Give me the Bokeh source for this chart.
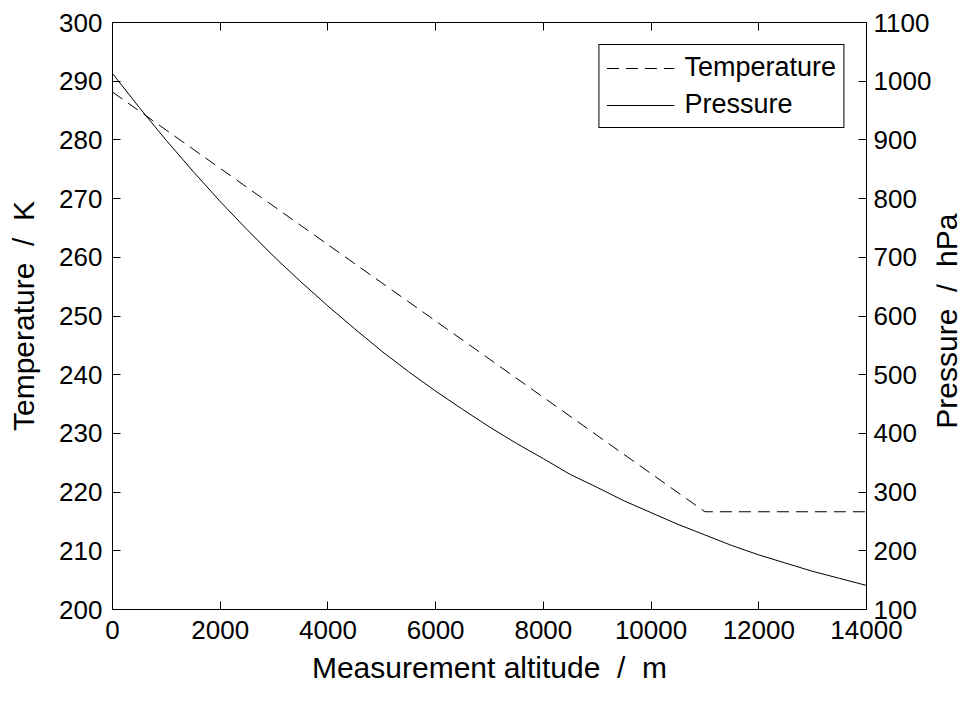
import math
from bokeh.plotting import figure
from bokeh.layouts import row
from bokeh.models import Range1d, LinearAxis, FixedTicker, Legend, LegendItem
from bokeh.core.properties import value
from bokeh.embed import file_html
from bokeh.resources import INLINE

# ---- data ----
altitude_t = [0, 1000, 2000, 3000, 4000, 5000, 6000, 7000, 8000, 9000, 10000, 11000, 12000, 13000, 14000]
temperature = [288.15, 281.65, 275.15, 268.65, 262.15, 255.65, 249.15, 242.65, 236.15, 229.65, 223.15,
               216.65, 216.65, 216.65, 216.65]

altitude_p = [0, 500, 1000, 1500, 2000, 2500, 3000, 3500, 4000, 4500, 5000, 5500, 6000, 6500, 7000,
              7500, 8000, 8500, 9000, 9500, 10000, 10500, 11000, 11500, 12000, 12500, 13000, 13500, 14000]
pressure = [1013, 955, 899, 846, 795, 747, 701, 658, 617, 578, 540, 505, 472, 441, 411,
            383, 357, 330, 308, 285, 265, 245, 227, 209, 193, 179, 165, 153, 141]

x_ticks = [0, 2000, 4000, 6000, 8000, 10000, 12000, 14000]
t_ticks = [200, 210, 220, 230, 240, 250, 260, 270, 280, 290, 300]
p_ticks = [100, 200, 300, 400, 500, 600, 700, 800, 900, 1000, 1100]

NB = "\u00a0\u00a0"
x_label = "Measurement altitude" + NB + "/" + NB + "m"
t_label = "Temperature" + NB + "/" + NB + "K"
p_label = "Pressure" + NB + "/" + NB + "hPa"

FONT = "Liberation Sans"
TICK_SIZE = "26px"
LABEL_SIZE = "30px"

H = 686
W1 = 936            # main figure
W2 = 24             # strip holding the right-hand axis title
BL, BR, BT, BB = 112, W1 - 866, 22, 72

p = figure(width=W1, height=H, x_range=Range1d(0, 14000), y_range=Range1d(200, 300),
           output_backend="svg", toolbar_location=None,
           min_border_left=BL, min_border_right=BR, min_border_top=BT, min_border_bottom=BB)
p.extra_y_ranges = {"p": Range1d(100, 1100)}

p.xgrid.visible = False
p.ygrid.visible = False
p.outline_line_color = "black"
p.outline_line_alpha = 1
p.outline_line_width = 1
p.background_fill_color = "white"
p.border_fill_color = "white"


def style_axis(ax, ticks, label_standoff):
    ax.ticker = FixedTicker(ticks=ticks)
    ax.axis_line_color = "black"
    ax.axis_line_width = 1
    ax.major_tick_line_color = "black"
    ax.major_tick_in = 8
    ax.major_tick_out = 0
    ax.minor_tick_line_color = None
    ax.major_label_text_font = FONT
    ax.major_label_text_font_size = TICK_SIZE
    ax.major_label_text_color = "black"
    ax.major_label_standoff = label_standoff
    ax.axis_label_text_font = FONT
    ax.axis_label_text_font_size = LABEL_SIZE
    ax.axis_label_text_font_style = "normal"
    ax.axis_label_text_color = "black"


style_axis(p.xaxis[0], x_ticks, 11)
p.xaxis[0].axis_label = x_label
p.xaxis[0].axis_label_standoff = 9

style_axis(p.yaxis[0], t_ticks, 10)
p.yaxis[0].axis_label = t_label
p.yaxis[0].axis_label_standoff = 16

right = LinearAxis(y_range_name="p")
style_axis(right, p_ticks, 7)
p.add_layout(right, "right")

top = LinearAxis()
style_axis(top, x_ticks, 0)
top.major_label_text_font_size = "0px"
top.major_label_text_alpha = 0
p.add_layout(top, "above")

r_t = p.line(altitude_t, temperature, line_color="black", line_width=1, line_dash="12 7")
r_p = p.line(altitude_p, pressure, line_color="black", line_width=1, y_range_name="p")

legend = Legend(items=[LegendItem(label="Temperature", renderers=[r_t]),
                       LegendItem(label="Pressure", renderers=[r_p])],
                location="top_right")
legend.margin = 22
legend.padding = 7
legend.spacing = 6
legend.glyph_width = 68
legend.glyph_height = 30
legend.label_height = 30
legend.label_standoff = 10
legend.label_text_font = FONT
legend.label_text_font_size = "27px"
legend.label_text_color = "black"
legend.border_line_color = "black"
legend.border_line_width = 1
legend.border_line_alpha = 1
legend.background_fill_color = "white"
legend.background_fill_alpha = 1
p.add_layout(legend)

# narrow strip to the right carrying the pressure-axis title, reading bottom to top
p2 = figure(width=W2, height=H, x_range=Range1d(0, W2), y_range=Range1d(0, H),
            x_axis_type=None, y_axis_type=None,
            output_backend="svg", toolbar_location=None,
            min_border_left=0, min_border_right=0, min_border_top=0, min_border_bottom=0)
p2.xgrid.visible = False
p2.ygrid.visible = False
p2.outline_line_color = None
p2.background_fill_color = "white"
p2.border_fill_color = "white"
p2.text(x=[10], y=[337], text=[p_label], angle=math.pi / 2,
        text_align="center", text_baseline="middle", text_font=value(FONT),
        text_font_size=value(LABEL_SIZE), text_color="black")

layout = row(p, p2, spacing=0)
open("out.html", "w").write(file_html(layout, INLINE))
